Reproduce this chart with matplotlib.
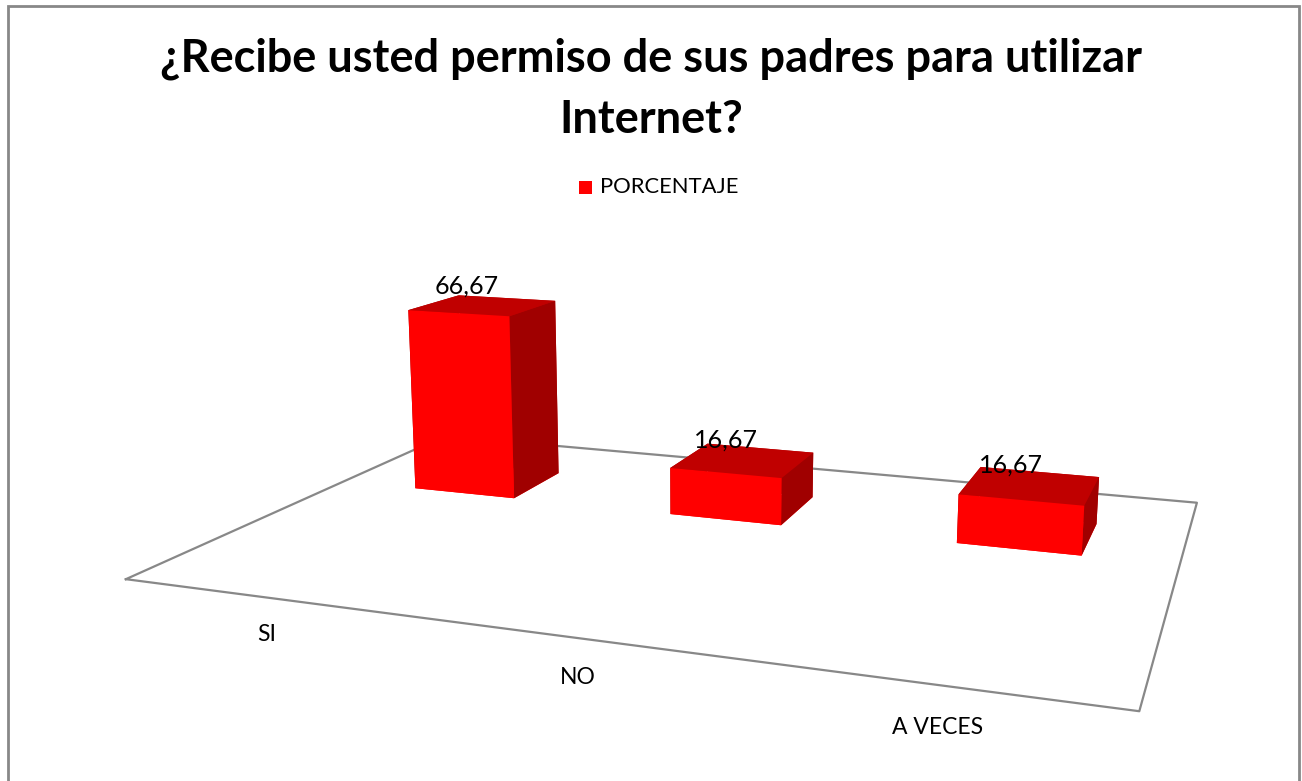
import matplotlib
matplotlib.use("Agg")
import matplotlib.pyplot as plt
import numpy as np
from matplotlib.patches import Rectangle

categories = ["SI", "NO", "A VECES"]
values = [66.67, 16.67, 16.67]
labels = ["66,67", "16,67", "16,67"]
series_name = "PORCENTAJE"
title = "¿Recibe usted permiso de sus padres para utilizar\nInternet?"

plt.rcParams['font.family'] = ['Lato', 'DejaVu Sans']

W, H = 1302, 781
fig = plt.figure(figsize=(W / 100, H / 100), dpi=100)
AX_POS = [0.0, -0.05, 1.0, 0.95]
ax = fig.add_axes(AX_POS, projection='3d')
ax.set_axis_off()
ax.computed_zorder = False
n = len(categories)
ax.set_xlim(0, n)
ax.set_ylim(0, 1)
ax.set_zlim(0, 80)
ax.set_proj_type('persp', focal_length=0.35)
ax.view_init(elev=18, azim=-70)
ax.set_box_aspect((3.0, 1.1, 1.1), zoom=1.4)
fig.canvas.draw()

# ---- camera fit: match the reference frame (floor corners, bar corners) in pixels ----
floor_ref = [((0, 0), (127, 580)), ((n, 0), (1138, 712)), ((n, 1), (1193, 507)), ((0, 1), (450, 440))]
bar_ref = [
    [(406, 311), (412, 488), (513, 497), (508, 317), (554, 300), (556, 470)],
    [(672, 468), (671, 514), (783, 524), (783, 477), (813, 452), (813, 495)],
    [(960, 495), (958, 542), (1083, 555), (1084, 505), (1099, 476), (1098, 526)],
]
tgt = np.array([p for _, p in floor_ref] + [p for b in bar_ref for p in b], float)


def pts3d(off, bw, y0, bd):
    P = [(x, y, 0.0) for (x, y), _ in floor_ref]
    for i, h in enumerate(values):
        x0 = i + off
        P += [(x0, y0, h), (x0, y0, 0), (x0 + bw, y0, 0), (x0 + bw, y0, h),
              (x0 + bw, y0 + bd, h), (x0 + bw, y0 + bd, 0)]
    return np.array(P, float)


def project(P, cam):
    elev, azim, f, zoom, ya, za = cam
    ax.view_init(elev=elev, azim=azim)
    ax.set_proj_type('persp', focal_length=f)
    ax.set_box_aspect((3.0, ya, za), zoom=zoom)
    M = ax.get_proj()
    v = M @ np.vstack([P.T, np.ones(len(P))])
    if np.any(v[3] <= 1e-6):
        return None
    xy = np.column_stack([v[0] / v[3], v[1] / v[3]])
    pix = ax.transData.transform(xy)
    return np.column_stack([pix[:, 0], H - pix[:, 1]])


def loss(p):
    elev, azim, f, zoom, ya, za, tx, ty, off, bw, y0, bd = p
    if f < 0.08 or zoom < 0.3 or ya < 0.1 or za < 0.1 or bw < 0.05 or bd < 0.02 or not (-5 < elev < 60):
        return 1e12
    pix = project(pts3d(off, bw, y0, bd), (elev, azim, f, zoom, ya, za))
    if pix is None or not np.all(np.isfinite(pix)):
        return 1e12
    pix = pix + np.array([tx, ty])
    return float(np.sum((pix - tgt) ** 2))


def nelder_mead(fun, x0, step, iters):
    x0 = np.asarray(x0, float)
    k = len(x0)
    pts = [x0] + [x0 + np.eye(k)[i] * step[i] for i in range(k)]
    vals = [fun(p) for p in pts]
    for _ in range(iters):
        o = np.argsort(vals)
        pts = [pts[i] for i in o]
        vals = [vals[i] for i in o]
        c = np.mean(pts[:-1], axis=0)
        xr = c + (c - pts[-1]); fr = fun(xr)
        if fr < vals[0]:
            xe = c + 2 * (c - pts[-1]); fe = fun(xe)
            pts[-1], vals[-1] = (xe, fe) if fe < fr else (xr, fr)
        elif fr < vals[-2]:
            pts[-1], vals[-1] = xr, fr
        else:
            xc = c + 0.5 * (pts[-1] - c); fc = fun(xc)
            if fc < vals[-1]:
                pts[-1], vals[-1] = xc, fc
            else:
                pts = [pts[0] + 0.5 * (p - pts[0]) for p in pts]
                vals = [fun(p) for p in pts]
    i = int(np.argmin(vals))
    return pts[i], vals[i]


p = np.array([18, -70, 0.35, 1.4, 1.1, 1.1, 0, 0, 0.08, 0.42, 0.7, 0.2])
step = np.array([4, 4, 0.08, 0.2, 0.2, 0.2, 30, 30, 0.05, 0.05, 0.05, 0.05])
for r in range(5):
    p, best = nelder_mead(loss, p, step * (0.7 ** r), 900)
elev, azim, f, zoom, ya, za, tx, ty, off, bw, y0, bd = p
cam = (elev, azim, f, zoom, ya, za)

# category label positions (fit to reference label centres)
cat_ref = np.array([(265, 637), (580, 677), (937, 726)], float)


def lab_loss(q):
    c, s, d = q
    P = np.array([(c + i * s, d, 0.0) for i in range(n)])
    pix = project(P, cam)
    if pix is None:
        return 1e12
    return float(np.sum((pix + np.array([tx, ty]) - cat_ref) ** 2))


q, _ = nelder_mead(lab_loss, [0.4, 1.0, -0.4], [0.1, 0.1, 0.1], 400)

# data label anchors: just above the top face, a little left of its centre
val_ref = np.array([(459, 292), (724, 448), (1019, 475)], float)


def val_loss(r):
    fx, dz = r
    P = np.array([(i + off + bw * fx, y0 + bd * 0.5, v + dz) for i, v in enumerate(values)])
    pix = project(P, cam)
    if pix is None:
        return 1e12
    return float(np.sum((pix + np.array([tx, ty]) - val_ref) ** 2))


rv, _ = nelder_mead(val_loss, [0.35, 4.0], [0.1, 1.0], 300)

# final camera
ax.view_init(elev=elev, azim=azim)
ax.set_proj_type('persp', focal_length=f)
ax.set_box_aspect((3.0, ya, za), zoom=zoom)
ax.set_position([AX_POS[0] + tx / W, AX_POS[1] - ty / H, AX_POS[2], AX_POS[3]])

# ---- marks ----
xs = np.arange(n) + off
face_cols = []
for _ in range(n):
    # -z, +z, -y, +y, -x, +x
    face_cols += ["#FF0000", "#C00000", "#FF0000", "#C00000", "#A00000", "#A00000"]
bars = ax.bar3d(xs, [y0] * n, [0] * n, [bw] * n, [bd] * n, values, color=face_cols,
                shade=False, edgecolor=None, linewidth=0, zorder=2)
bars.set_clip_on(False)

ax.plot([0, n, n, 0, 0], [0, 0, 1, 1, 0], [0] * 5, color="#888888", lw=1.6,
        zorder=1, clip_on=False)

for x, v, lab in zip(xs, values, labels):
    ax.text(x + bw * rv[0], y0 + bd * 0.5, v + rv[1], lab, fontsize=18, ha='center',
            va='baseline', color='black', zorder=5)
for i, c in enumerate(categories):
    ax.text(q[0] + i * q[1], q[2], 0, c, fontsize=16.5, ha='center', va='center', zorder=5)

fig.text(0.5, 0.886, title, ha='center', va='center', fontsize=32.5, fontweight='bold',
         linespacing=1.55)
fig.patches.append(Rectangle((579 / W, 1 - 194 / H), 13 / W, 13 / H, transform=fig.transFigure,
                             facecolor="#FF0000", edgecolor='none'))
fig.text(600 / W, 1 - 187 / H, series_name, fontsize=15.8, va='center', ha='left')

fig.patches.append(Rectangle((8 / W, -0.1), (1299 - 8) / W, 1.1 - 6 / H, transform=fig.transFigure,
                             facecolor='none', edgecolor="#888888", lw=2))

fig.savefig("out.png", dpi=100)
